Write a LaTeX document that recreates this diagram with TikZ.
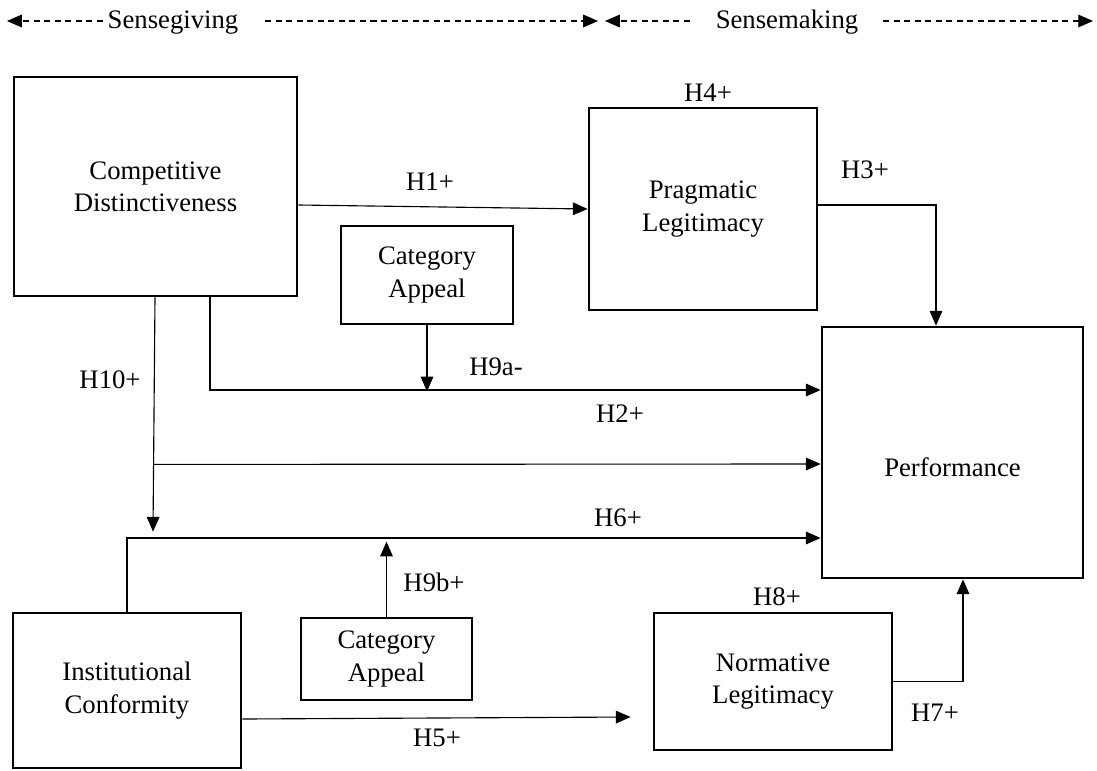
\documentclass[tikz,border=0pt]{standalone}
\usepackage{fontspec}
\setmainfont{Liberation Serif}
\usetikzlibrary{arrows.meta,calc}

\begin{document}
\begin{tikzpicture}[x=0.025cm,y=-0.025cm,
    font=\fontsize{19}{23}\selectfont,
    box/.style={draw,line width=1.9pt,align=center,inner sep=0pt},
    link/.style={line width=0.8pt,-{Triangle[length=10.5pt,width=9pt]}},
    phase/.style={link,dash pattern=on 4.3pt off 3.2pt}]
    \useasboundingbox (0,0) rectangle (1097,770);
    % sensegiving / sensemaking bar
    \node[anchor=base] (sg) at (173,28) {Sensegiving};
    \node[anchor=base] (sm) at (787,28) {Sensemaking};
    \coordinate (sgL) at (7,21);
    \coordinate (sgR) at (598,21);
    \coordinate (smL) at (605,21);
    \coordinate (smR) at (1093,21);
    \draw[phase] ($(sgL)+(96,0)$) -- (sgL);
    \draw[phase] ($(sgR)+(-333,0)$) -- (sgR);
    \draw[phase] ($(smL)+(85,0)$) -- (smL);
    \draw[phase] ($(smR)+(-210,0)$) -- (smR);
    % constructs
    \node[box,minimum width=7.075cm,minimum height=5.475cm] (cd) at (155.5,186.5) {Competitive\\Distinctiveness};
    \node[box,minimum width=5.7cm,minimum height=5.05cm] (pl) at (703,209) {Pragmatic\\Legitimacy};
    \node[box,minimum width=4.3cm,minimum height=2.45cm] (ca1) at (427,275) {Category\\Appeal};
    \node[box,minimum width=6.525cm,minimum height=6.275cm,text height=34pt] (perf) at (952.5,452.5) {Performance};
    \node[box,minimum width=5.7cm,minimum height=3.875cm] (ic) at (127,690.5) {Institutional\\Conformity};
    \node[box,minimum width=4.275cm,minimum height=2.05cm] (ca2) at (386.5,659) {Category\\Appeal};
    \node[box,minimum width=5.95cm,minimum height=3.425cm] (nl) at (773,681.5) {Normative\\Legitimacy};
    % paths
    \coordinate (cdfoot) at ($(ic.north)+(26,-80)$);
    \draw[link] ($(cd.east)+(0,18.5)$) -- (pl.west);
    \draw[link] ($(pl.east)+(0,-4)$) -| ($(perf.north)+(-16.5,0)$);
    \draw[link] ($(cd.south)+(54.5,0)$) |- ($(perf.west)+(0,-62.5)$);
    \draw[link] (ca1.south) -- ++(0,66);
    \draw[link] ($(cd.south)+(-0.5,0)$) -- (cdfoot);
    \draw[link] ($(cd.south)!0.713!(cdfoot)$) -- ($(perf.west)+(0,11.5)$);
    \draw[link] (ic.north) |- ($(perf.west)+(0,85.5)$);
    \draw[link] (ca2.north) -- ++(0,-75);
    \draw[link] ($(ic.east)+(0,28.5)$) -- ($(nl.west)+(-22,35.5)$);
    \draw[link] (nl.east) -| ($(perf.south)+(10.5,0)$);
    % hypotheses
    \node (h1) at (430,182) {H1+};
    \node (h2) at (620,414) {H2+};
    \node (h3) at (865,170) {H3+};
    \node (h4) at (708,93) {H4+};
    \node (h5) at (437,738) {H5+};
    \node (h6) at (618,518) {H6+};
    \node (h7) at (935,713) {H7+};
    \node (h8) at (777,597) {H8+};
    \node (h9a) at (496,367) {H9a-};
    \node (h9b) at (434,582) {H9b+};
    \node (h10) at (110,380) {H10+};
\end{tikzpicture}
\end{document}
